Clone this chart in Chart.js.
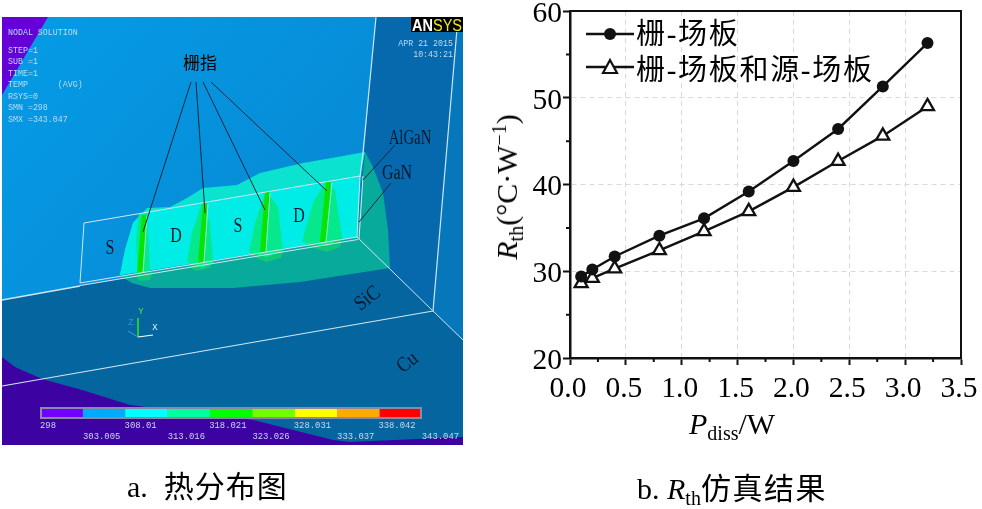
<!DOCTYPE html>
<html><head><meta charset="utf-8">
<script src="https://cdn.jsdelivr.net/npm/chart.js@4"></script>
<style>
html,body{margin:0;padding:0;background:#fff;width:982px;height:509px;overflow:hidden}
canvas{position:absolute;left:0;top:0}
#panel{position:absolute;left:0;top:0;width:982px;height:509px;filter:blur(.45px)}
.t{position:absolute;white-space:pre;line-height:1}
.mono{font-family:"Liberation Mono","DejaVu Sans Mono",monospace;font-size:8.3px;color:#b9dcf2}
.leg{font-family:"Liberation Mono",monospace;font-size:8.9px;color:#cfd4f0}
.lab{font-family:"Liberation Serif","Noto Sans CJK SC",serif;color:#061a2e}
.big{font-family:"Liberation Serif","Noto Sans CJK SC",serif;font-size:30px;color:#000}
.big sub{font-size:20px;line-height:0;vertical-align:-6px}
.big sup{font-size:20px;line-height:0;vertical-align:11px}
#legend svg{position:absolute}
</style></head><body>
<div id="panel"><canvas id="ill" width="982" height="509"></canvas></div>
<canvas id="c" width="982" height="509"></canvas>
<div id="legend"></div>
<script>
const power = [0.1, 0.2, 0.4, 0.8, 1.2, 1.6, 2.0, 2.4, 2.8, 3.2];
const gateFieldPlate = [29.4, 30.2, 31.7, 34.1, 36.1, 39.2, 42.7, 46.4, 51.3, 56.3];
const gateSourceFieldPlate = [28.6, 29.2, 30.3, 32.4, 34.6, 36.9, 39.7, 42.7, 45.6, 49.0];
const seriesNames = ['栅-场板', '栅-场板和源-场板'];
const xTickLabels = ['0.0','0.5','1.0','1.5','2.0','2.5','3.0','3.5'];
const yTickLabels = ['60','50','40','30','20'];
const xMinorTicks = [0.25,0.75,1.25,1.75,2.25,2.75,3.25];
const yMinorTicks = [25,35,45,55];
const colorBands = ['#7000ff','#00aaff','#00ffff','#00ffa0','#00ff00','#70ff00','#ffff00','#ffaa00','#ff0000'];
const scaleRow1 = ['298','308.01','318.021','328.031','338.042'];
const scaleRow2 = ['303.005','313.016','323.026','333.037','343.047'];
const infoLines = [['NODAL SOLUTION',33],['STEP=1',51],['SUB =1',62],['TIME=1',74],['TEMP      (AVG)',85],['RSYS=0',97],['SMN =298',108],['SMX =343.047',120]];

const ink = '#111';
const frameAndMinor = {
  id: 'frameAndMinor',
  afterDraw(chart) {
    const {ctx, chartArea: a, scales: {x, y}} = chart;
    ctx.save();
    ctx.strokeStyle = ink; ctx.lineWidth = 2;
    ctx.beginPath();
    ctx.moveTo(a.left, a.top); ctx.lineTo(a.right, a.top); ctx.lineTo(a.right, a.bottom);
    xMinorTicks.forEach(v => { const p = x.getPixelForValue(v); ctx.moveTo(p, a.bottom); ctx.lineTo(p, a.bottom + 4); });
    yMinorTicks.forEach(v => { const p = y.getPixelForValue(v); ctx.moveTo(a.left, p); ctx.lineTo(a.left - 4, p); });
    ctx.stroke();
    ctx.restore();
  }
};
function toPoints(vals){ return power.map((p,i)=>({x:p,y:vals[i]})); }
function freePad(s){ s.paddingTop=0; s.paddingBottom=0; s.paddingLeft=0; s.paddingRight=0; }
new Chart(document.getElementById('c'), {
  type: 'scatter',
  data: { datasets: [
    { label: seriesNames[0], data: toPoints(gateFieldPlate), showLine: true, borderColor: ink, borderWidth: 2.4,
      backgroundColor: ink, pointStyle: 'circle', pointRadius: 6, pointBorderWidth: 0 },
    { label: seriesNames[1], data: toPoints(gateSourceFieldPlate), showLine: true, borderColor: ink, borderWidth: 2.4,
      backgroundColor: '#fff', pointBackgroundColor: '#fff', pointBorderColor: ink, pointStyle: 'triangle', pointRadius: 7.5, pointBorderWidth: 2.3 }
  ]},
  options: {
    responsive: false, animation: false, devicePixelRatio: 1, events: [],
    layout: { padding: { left: 500, right: 21, top: 11, bottom: 91 } },
    plugins: { legend: { display: false }, tooltip: { enabled: false } },
    scales: {
      x: { type: 'linear', min: 0, max: 3.5,
        afterFit(s){ s.height = 60; freePad(s); },
        border: { color: ink, width: 2.5, dash: [5,4] },
        grid: { color: '#d9d9d9', lineWidth: 1, tickColor: ink, tickWidth: 2, tickLength: 7 },
        ticks: { stepSize: 0.5, maxRotation: 0, autoSkip: false, padding: 7, labelOffset: -2, color: '#000',
          font: { family: '"Liberation Serif"', size: 29.5 }, callback: (v,i) => xTickLabels[i] } },
      y: { type: 'linear', min: 20, max: 60,
        afterFit(s){ s.width = 70; freePad(s); },
        border: { color: ink, width: 2.5, dash: [5,4] },
        grid: { color: '#d9d9d9', lineWidth: 1, tickColor: ink, tickWidth: 2, tickLength: 7 },
        ticks: { stepSize: 10, autoSkip: false, padding: 1, labelOffset: 3, color: '#000',
          font: { family: '"Liberation Serif"', size: 29.5 }, callback: (v,i) => yTickLabels[yTickLabels.length-1-i] } }
    }
  },
  plugins: [frameAndMinor]
});

/* ---------- left illustration (a picture, not chart data) ---------- */
const g = document.getElementById('ill').getContext('2d');
function poly(pts, fill){ g.beginPath(); pts.forEach((p,i)=> i?g.lineTo(p[0],p[1]):g.moveTo(p[0],p[1])); g.closePath(); g.fillStyle=fill; g.fill(); }
function line(pts, col, w){ g.beginPath(); pts.forEach((p,i)=> i?g.lineTo(p[0],p[1]):g.moveTo(p[0],p[1])); g.strokeStyle=col; g.lineWidth=w; g.stroke(); }
g.fillStyle='#05659f'; g.fillRect(2,17,461,428);
const wall = g.createLinearGradient(2,17,300,280); wall.addColorStop(0,'#059ce6'); wall.addColorStop(1,'#0789d4');
poly([[2,17],[376,17],[357,237],[2,300]], wall);
poly([[48,17],[2,95],[2,17]], '#6600d8');
poly([[376,17],[458,17],[433,311],[357,237]], '#0669ae');
poly([[458,17],[463,17],[463,340],[433,311]], '#0577ba');
poly([[2,357],[15,367],[42,379],[82,390],[130,405],[253,420],[333,440],[350,442],[463,437],[463,445],[2,445]], '#3c02a2');
// dark teal heat
poly([[120,276],[132,283],[150,288],[233,288],[300,282],[390,268],[388,230],[383,193],[373,167],[365,152],[357,237]], '#08ab9b');
// light teal heat
const outline=[[120,275],[125,250],[133,223],[147,208],[170,207],[187,198],[203,188],[237,185],[260,173],[303,163],[337,157],[365,152],[360,176],[357,237]];
poly(outline, '#0be2cf');
g.save(); g.beginPath(); outline.forEach((p,i)=> i?g.lineTo(p[0],p[1]):g.moveTo(p[0],p[1])); g.closePath(); g.clip();
poly([[84,223],[360,176],[357,237],[80,283]], '#00ece6'); g.restore();
// lobes below the edge
poly([[136,276],[152,272],[150,280],[140,281]],'#10c878');
poly([[187,265],[213,260],[210,268],[196,271]],'#10c878');
poly([[249,255],[283,249],[281,258],[266,262]],'#10c878');
poly([[304,245],[342,238],[340,247],[327,252]],'#10c878');
// lobes
[[[139,213],[147,214],[150,270],[138,275],[136,240]],
 [[202,202],[210,223],[213,263],[202,268],[187,262],[192,233]],
 [[266,191],[278,207],[283,251],[267,257],[249,252],[255,223]],
 [[325,182],[335,190],[342,237],[327,246],[302,242],[313,203]]].forEach(l=>poly(l,'#05e88c'));
// gate strips
[[[142,215],[146.5,215],[142.5,273],[137,273]],
 [[203,203],[207.5,203],[203.5,263],[198,263]],
 [[265,192],[269.5,192],[265.5,252],[260,252]],
 [[326,182],[331,182],[325.5,242],[320,242]]].forEach(l=>poly(l,'#06e400'));
// wire frame
const wire='#cfe6f2';
line([[84,223],[360,176],[357,237],[80,283],[84,223]],wire,1);
line([[80,285.5],[358,239.5]],wire,1);
line([[2,300],[80,286]],wire,1.4);
line([[376,17],[363,153],[360,177]],wire,1.2);
line([[363,176],[359,239]],wire,1);
line([[458,17],[433,311]],wire,1.2);
line([[357,237],[433,311],[463,340]],wire,1);
line([[2,386],[433,311]],wire,1.2);
[[[147,216],[143,273]],[[208,204],[204,263]],[[270,193],[266,252]],[[332,183],[326,242]]].forEach(l=>line(l,'#b8ecdc',.8));
// leader lines
const leader='#10283c';
line([[191,82],[143,232]],leader,1); line([[196,82],[205,213]],leader,1);
line([[203,82],[265,210]],leader,1); line([[211,82],[327,191]],leader,1);
line([[395,145],[363,180]],leader,1); line([[391,183],[359,222]],leader,1);
// triad
line([[138,318],[138,337]],'#30e020',1.6); line([[138,337],[153,335]],'#ffffff',1.2); line([[128,331],[138,337]],'#30a0e8',1);
// legend bar
g.fillStyle='#8a8aa8'; g.fillRect(40,407,382,12);
colorBands.forEach((c,i)=>{ const x0=i?40+42.4*i+0.5:42; const x1=i==8?420:40+42.4*(i+1)+0.5; g.fillStyle=c; g.fillRect(x0,409,x1-x0,8); });

/* ---------- text ---------- */
function put(parent,html,x,y,cls,o){ o=o||{}; const s=document.createElement('span'); s.className='t '+cls; s.innerHTML=html;
  s.style.left=x+'px'; s.style.top=y+'px';
  const ax=o.anchor==null?0:o.anchor;
  s.style.transform='translate('+(-ax*100)+'%,-50%)'+(o.rot?' rotate('+o.rot+'deg)':'')+((o.sx||o.sy)?' scale('+(o.sx||1)+','+(o.sy||1)+')':'');
  if(o.size) s.style.fontSize=o.size+'px'; if(o.color) s.style.color=o.color; if(o.ls) s.style.letterSpacing=o.ls+'px';
  parent.appendChild(s); return s; }
const P=document.getElementById('panel');
infoLines.forEach(l=>put(P,l[0],8,l[1],'mono'));
put(P,'APR 21 2015',453,44,'mono',{anchor:1}); put(P,'10:43:21',453,55,'mono',{anchor:1});
g.fillStyle='#000'; g.fillRect(411,17,52,15);
const logo=put(P,'<b style="color:#fff">AN</b><span style="color:#f2ea20">SYS</span>',437,25,'lab',{anchor:.5,size:14.5,sy:1.2});
logo.style.fontFamily='"Liberation Sans"';
scaleRow1.forEach((t,i)=>put(P,t,40+84.6*i,426,'leg'));
scaleRow2.forEach((t,i)=>put(P,t,83+84.7*i,437,'leg',{anchor:0}));
put(P,'栅指',200,63,'lab',{anchor:.5,size:17,color:'#000'});
[['S',110,247],['D',176,235],['S',238,225],['D',299,215]].forEach(a=>put(P,a[0],a[1],a[2],'lab',{anchor:.5,size:20,sx:.8}));
put(P,'AlGaN',410,137,'lab',{anchor:.5,size:20,sx:.74}); put(P,'GaN',397,172,'lab',{anchor:.5,size:20,sx:.8});
put(P,'SiC',367,298,'lab',{anchor:.5,size:21,rot:-38,sx:.85}); put(P,'Cu',407,362,'lab',{anchor:.5,size:21,rot:-38,sx:.85});
put(P,'Y',141,312,'leg',{anchor:.5,color:'#60e040'}); put(P,'Z',131,323,'leg',{anchor:.5,color:'#3090e0'}); put(P,'X',155,328,'leg',{anchor:.5,color:'#e8f0ff'});

const B=document.body;
put(B,'a.&nbsp; <span style="letter-spacing:1px;margin-left:1px">热分布图</span>',127,487,'big');
put(B,'b. <i>R</i><sub>th</sub><span style="letter-spacing:1.5px">仿真结果</span>',637,489,'big');
put(B,'<i>P</i><sub>diss</sub>/W',689,424,'big');
put(B,'<i>R</i><sub>th</sub>(°C·W<sup>−1</sup>)',507,187,'big',{anchor:.5,rot:-90});

/* ---------- legend ---------- */
const L=document.getElementById('legend');
function legendRow(name,markY,textY,triangle,spacing){
  const mark=triangle?'<polygon points="24,5 31,18 17,18" fill="#fff" stroke="#111" stroke-width="2.2"/>':'<circle cx="24" cy="12" r="6" fill="#111"/>';
  const w=document.createElement('div');
  w.innerHTML='<svg width="50" height="24" style="left:586px;top:'+(markY-12)+'px"><line x1="0" x2="48" y1="12" y2="12" stroke="#111" stroke-width="2.4"/>'+mark+'</svg>';
  L.appendChild(w);
  put(L,name,636,textY,'big',{ls:spacing,size:29});
}
legendRow(seriesNames[0],34,34,false,1.7);
legendRow(seriesNames[1],67,70,true,1.7);
</script>
</body></html>
